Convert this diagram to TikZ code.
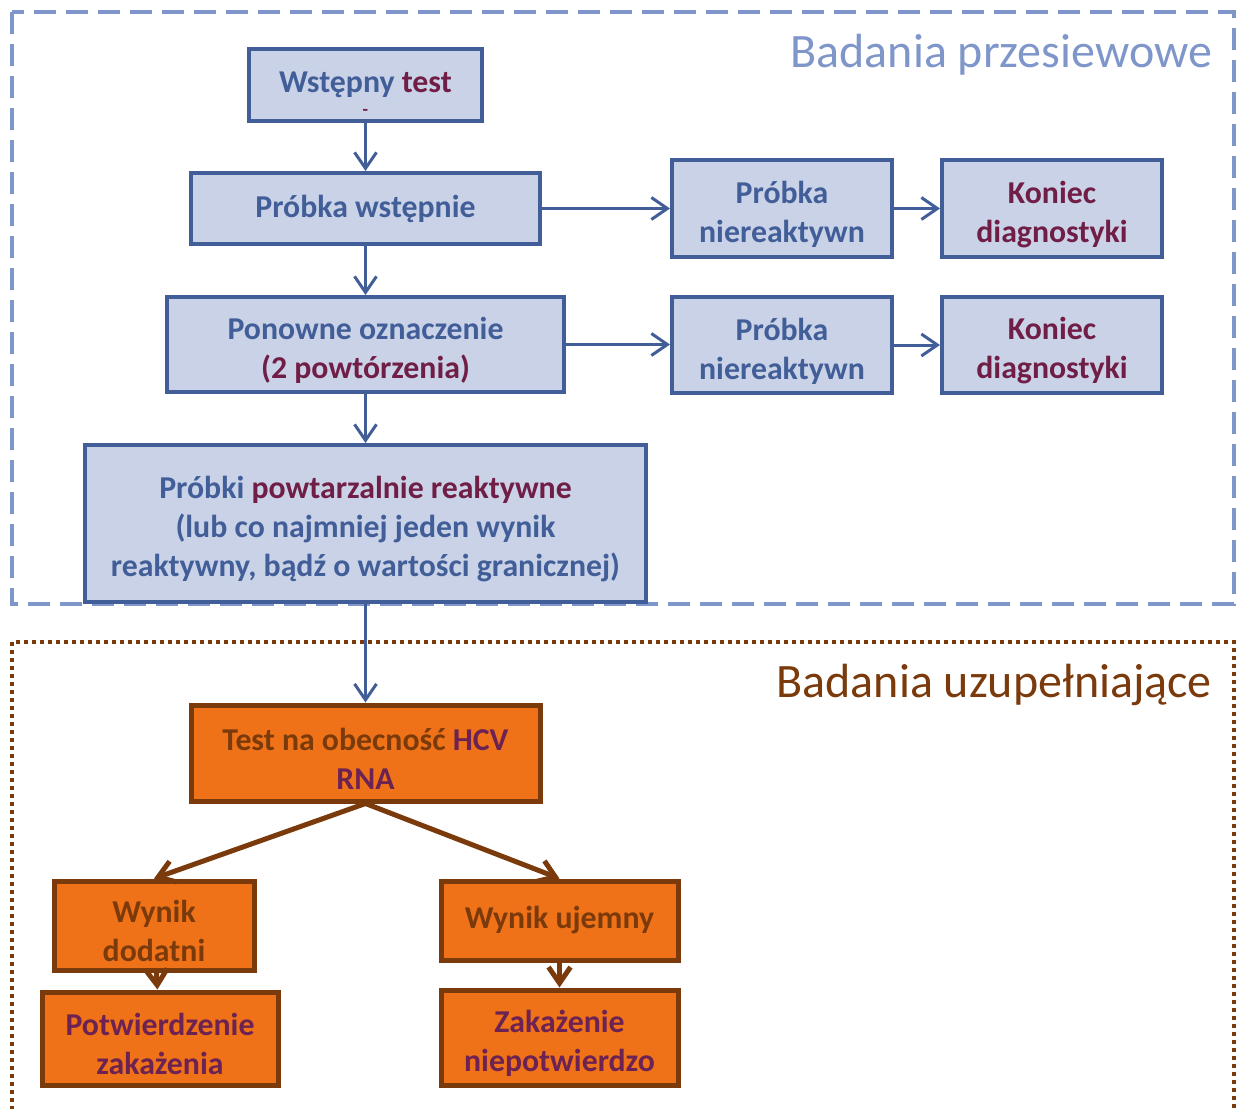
\documentclass[tikz,border=0pt]{standalone}
\usepackage{fontspec}
\setmainfont{Carlito}
\usetikzlibrary{arrows.meta}
\definecolor{sectblue}{RGB}{127,150,202}
\definecolor{boxblue}{RGB}{201,210,231}
\definecolor{lineblue}{RGB}{66,94,152}
\definecolor{maroon}{RGB}{112,30,70}
\definecolor{orangefill}{RGB}{240,114,24}
\definecolor{brownline}{RGB}{122,58,12}
\definecolor{plum}{RGB}{108,34,82}
\newcommand{\lift}{\rule{0pt}{17pt}}
\begin{document}
\begin{tikzpicture}[x=0.5pt,y=-0.5pt,
    bluebox/.style={draw=lineblue,fill=boxblue,line width=2pt,inner sep=0pt,align=center,
      text=lineblue,font=\bfseries\fontsize{15.9}{19.5}\selectfont},
    orangebox/.style={draw=brownline,fill=orangefill,line width=2.5pt,inner sep=0pt,align=center,
      text=brownline,font=\bfseries\fontsize{15.9}{19.5}\selectfont},
    bluearrow/.style={draw=lineblue,line width=1.5pt,-{Straight Barb[length=8pt,width=11pt,line width=1.5pt]}},
    brownarrow/.style={draw=brownline,line width=2.5pt,-{Straight Barb[length=8pt,width=11pt,line width=2.5pt]}}]
  \useasboundingbox (0,0) rectangle (1236,1108);
  \draw[sectblue,line width=2pt,dash pattern=on 11pt off 5pt] (12,12) rectangle (1234,604);
  \draw[brownline,line width=2pt,dash pattern=on 2pt off 2pt] (12,642) rectangle (1234,1140);
  \node[anchor=base east,text=sectblue,font=\fontsize{24}{28}\selectfont] (screening) at (1219,67) {Badania przesiewowe};
  \node[anchor=base east,text=brownline,font=\fontsize{24}{28}\selectfont] (followup) at (1219,697) {Badania uzupełniające};

  \node[bluebox,minimum width=116.5pt,minimum height=36pt] (W) at (365.5,85)
    {\rule{0pt}{19pt}Wstępny \textcolor{maroon}{test}\\[-8pt]{\fontsize{9}{9}\selectfont\textcolor{maroon}{-}}};
  \node[bluebox,minimum width=174.5pt,minimum height=35.5pt] (P1) at (365.5,208.5) {Próbka wstępnie};
  \node[bluebox,minimum width=110pt,minimum height=48.5pt] (N1) at (782,208.5) {\lift Próbka\\niereaktywn};
  \node[bluebox,minimum width=110pt,minimum height=48.5pt,text=maroon] (K1) at (1052,208.5) {\lift Koniec\\diagnostyki};
  \node[bluebox,minimum width=198.5pt,minimum height=47.5pt] (PO) at (365.5,344.5)
    {\lift Ponowne oznaczenie\\\textcolor{maroon}{(2 powtórzenia)}};
  \node[bluebox,minimum width=110pt,minimum height=48pt] (N2) at (782,345) {\lift Próbka\\niereaktywn};
  \node[bluebox,minimum width=110pt,minimum height=48pt,text=maroon] (K2) at (1052,345) {\lift Koniec\\diagnostyki};
  \node[bluebox,minimum width=280.5pt,minimum height=78.5pt] (PR) at (365.5,523.5)
    {\lift Próbki \textcolor{maroon}{powtarzalnie reaktywne}\\(lub co najmniej jeden wynik\\reaktywny, bądź o wartości granicznej)};

  \node[orangebox,minimum width=174.5pt,minimum height=48pt] (HCV) at (365.5,753)
    {\lift Test na obecność \textcolor{plum}{HCV}\\\textcolor{plum}{RNA}};
  \node[orangebox,minimum width=100pt,minimum height=44.5pt] (WD) at (154,925.5) {\lift Wynik\\dodatni};
  \node[orangebox,minimum width=118pt,minimum height=46.5pt,text=plum] (PZ) at (160,1038.5) {\lift Potwierdzenie\\zakażenia};
  \node[orangebox,minimum width=118.5pt,minimum height=39.5pt] (WU) at (559.5,920.5) {Wynik ujemny};
  \node[orangebox,minimum width=118.5pt,minimum height=47.5pt,text=plum] (ZN) at (559.5,1037.5) {\lift Zakażenie\\niepotwierdzo};

  \draw[bluearrow] (W) -- (P1);
  \draw[bluearrow] (P1) -- (PO);
  \draw[bluearrow] (PO) -- (PR);
  \draw[bluearrow] (P1) -- (N1);
  \draw[bluearrow] (N1) -- (K1);
  \draw[bluearrow] (PO.east) -- (N2.west |- PO.east);
  \draw[bluearrow] (N2) -- (K2);
  \draw[bluearrow] (PR.south) -- (HCV.north);
  \draw[brownarrow] (HCV.south) -- (WD.north);
  \draw[brownarrow] (HCV.south) -- (WU.north);
  \draw[brownarrow] (WD) -- (PZ);
  \draw[brownarrow] (WU) -- (ZN);
\end{tikzpicture}
\end{document}
